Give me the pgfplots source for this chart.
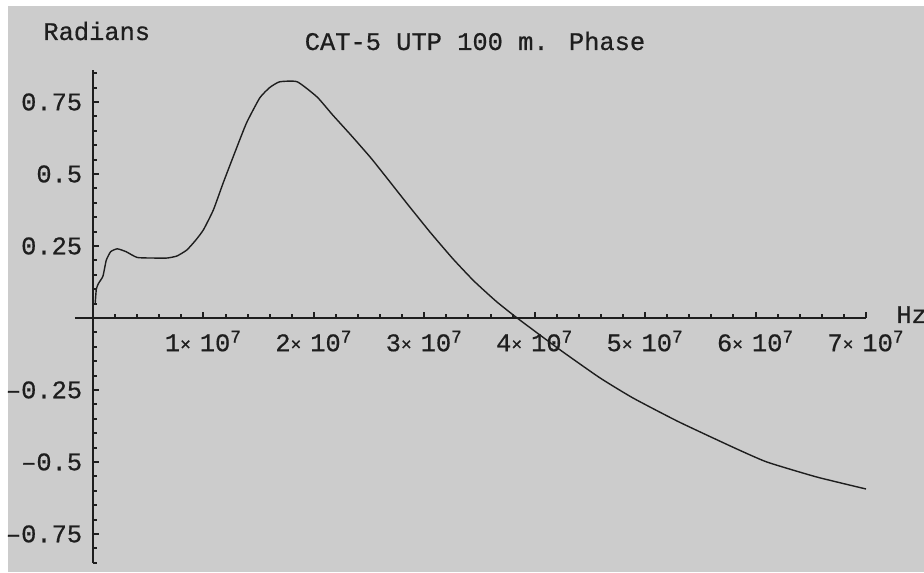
\documentclass[border=0pt]{standalone}
\usepackage{fontspec}
\setmainfont{Liberation Mono}[FakeBold=0.6]
\usepackage{pgfplots}
\pgfplotsset{compat=1.18}
\definecolor{bg}{RGB}{204,204,204}
\definecolor{ink}{RGB}{30,30,30}
\newcommand{\tl}[1]{#1{\small\raisebox{0.05em}{×}}\hspace{0.35em}10\textsuperscript{7}}
\begin{document}
\fontsize{12.7}{15}\selectfont
\begin{tikzpicture}
  % page and plot background (image: 924x572 px, 0.5pt per px)
  \fill[white] (-37.5pt,-4.5pt) rectangle (424.5pt,281.5pt);
  \fill[bg] (-33.5pt,-4.5pt) rectangle (424.5pt,278.5pt);
  \begin{axis}[
    at={(0pt,0pt)}, anchor=south west,
    scale only axis, width=395.5pt, height=246.5pt,
    xmin=-1.63e6, xmax=7e7, ymin=-0.851, ymax=0.861,
    axis x line=middle, axis y line=middle,
    axis line style={-, ink, line width=1pt},
    every inner x axis line/.append style={-},
    every inner y axis line/.append style={-},
    scaled x ticks=false,
    xtick={1e7,2e7,3e7,4e7,5e7,6e7,7e7},
    xticklabels={\tl{1},\tl{2},\tl{3},\tl{4},\tl{5},\tl{6},\tl{7}},
    minor xtick={2e6,4e6,6e6,8e6,1.2e7,1.4e7,1.6e7,1.8e7,2.2e7,2.4e7,2.6e7,2.8e7,
      3.2e7,3.4e7,3.6e7,3.8e7,4.2e7,4.4e7,4.6e7,4.8e7,5.2e7,5.4e7,5.6e7,5.8e7,
      6.2e7,6.4e7,6.6e7,6.8e7},
    ytick={-0.75,-0.5,-0.25,0.25,0.5,0.75},
    yticklabels={–0.75,–0.5,–0.25,0.25,0.5,0.75},
    minor ytick={-0.85,-0.8,-0.7,-0.65,-0.6,-0.55,-0.45,-0.4,-0.35,-0.3,
      -0.2,-0.15,-0.1,-0.05,0.05,0.1,0.15,0.2,0.3,0.35,0.4,0.45,
      0.55,0.6,0.65,0.7,0.8,0.85},
    xtick align=inside, ytick align=inside,
    tickwidth=3.2pt, subtickwidth=2.2pt,
    every tick/.style={ink, line width=1pt},
    tick label style={font=\fontsize{12.7}{15}\selectfont, text=ink},
    xticklabel style={yshift=-2pt},
    yticklabel style={xshift=-1pt},
    clip=false,
  ]
    \addplot[ink, line width=0.7pt, smooth, tension=0.3] coordinates {
      (2e5,0.05) (3e5,0.10) (5e5,0.12) (9e5,0.145) (1.2e6,0.20)
      (1.6e6,0.23) (2.2e6,0.24) (3.0e6,0.23) (4.0e6,0.21) (5.5e6,0.208)
      (6.7e6,0.208) (7.6e6,0.215) (8.5e6,0.236) (9.3e6,0.27) (1.0e7,0.306)
      (1.09e7,0.375) (1.18e7,0.47) (1.29e7,0.58) (1.39e7,0.677) (1.51e7,0.764)
      (1.6e7,0.80) (1.69e7,0.82) (1.85e7,0.82) (2.03e7,0.767) (2.17e7,0.705)
      (2.34e7,0.633) (2.52e7,0.554) (2.69e7,0.472) (2.84e7,0.399) (3.05e7,0.299)
      (3.26e7,0.205) (3.45e7,0.128) (3.65e7,0.058) (3.84e7,0.0) (4.23e7,-0.111)
      (4.59e7,-0.208) (4.89e7,-0.278) (5.3e7,-0.36) (5.79e7,-0.448) (6.1e7,-0.5)
      (6.55e7,-0.552) (7.0e7,-0.594)
    };
  \end{axis}
  \node[anchor=base, text=ink] at (200pt,256.5pt) {CAT-5 UTP 100 m. Phase};
  \node[anchor=base west, inner sep=0pt, text=ink] at (-16pt,261.5pt) {Radians};
  \node[anchor=base west, inner sep=0pt, text=ink] at (410.5pt,120pt) {Hz};
  \pgfresetboundingbox
  \path (-37.5pt,-4.5pt) rectangle (424.5pt,281.5pt);
\end{tikzpicture}
\end{document}
